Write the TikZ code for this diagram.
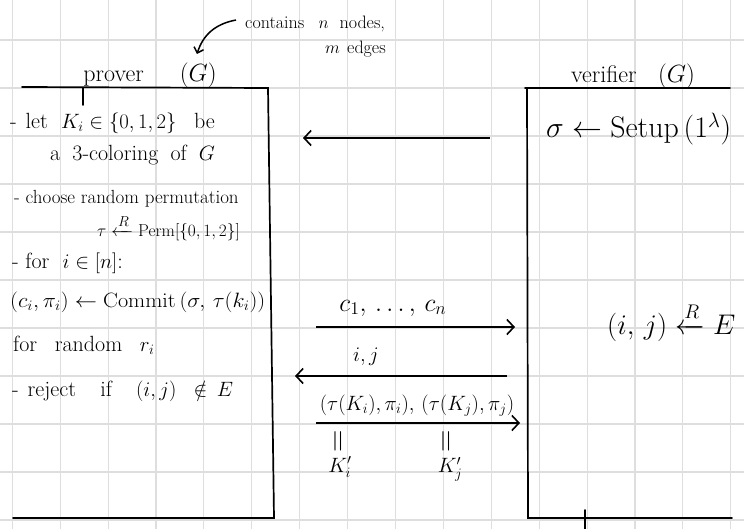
\documentclass[tikz,border=0pt]{standalone}
\usepackage{amsmath,amssymb}
\usetikzlibrary{arrows.meta}
\tikzset{
  gridline/.style={draw=black!13, line width=1.1pt},
  frame/.style={draw=black, line width=1.7pt, line cap=round},
  msg/.style={draw=black, line width=1.6pt, -{Straight Barb[length=7pt,width=15pt,line width=1.6pt]}},
  txt/.style={anchor=west, inner sep=0pt, font=\fontsize{22}{26}\selectfont},
  lbl/.style={inner sep=0pt, font=\fontsize{22}{26}\selectfont},
  note/.style={anchor=west, inner sep=0pt, font=\fontsize{18}{21}\selectfont},
  eqmark/.style={inner sep=0pt, font=\fontsize{16}{18}\selectfont},
}
\begin{document}
\begin{tikzpicture}[x=1pt,y=-1pt]
\useasboundingbox (0,0) rectangle (744,529);
% grid
\foreach \i in {0,...,15} { \draw[gridline] ({12.3+47.9*\i},0) -- ({12.3+47.9*\i},529); }
\foreach \j in {0,...,10} { \draw[gridline] (0,{40+48*\j}) -- (744,{40+48*\j}); }

% annotation
\node[note] (note1) at (245,24) {contains\hspace{0.8em}$n$\hspace{0.6em}nodes,};
\node[note] (note2) at (325,49) {$m$\hspace{0.4em}edges};

% prover
\node[lbl, font=\fontsize{24}{28}\selectfont] (ptitle) at (150,75) {prover\hspace{1.5em}$(G)$};
\coordinate (pG) at (197,54);
\draw[line width=1.5pt, -{Straight Barb[length=5pt,width=10pt,line width=1.5pt]}] (note1.west) ++(-9,-4) .. controls (215,24) and (203,35) .. (pG);
\coordinate (ph1) at (22,87); \coordinate (ph2) at (268,88);
\coordinate (pr2) at (274,518); \coordinate (pb1) at (13,518);
\coordinate (pt1) at (83,88); \coordinate (pt2) at (83,105);
\draw[frame] (ph1) -- (ph2) -- (pr2) -- (pb1);
\draw[frame] (pt1) -- (pt2);

\node[txt] (l1) at (10,123) {-\hspace{0.4em}let\hspace{0.3em} $K_i \in \{0,1,2\}$\hspace{0.5em} be};
\node[txt] (l2) at (50,155) {a\hspace{0.25em} 3-coloring\hspace{0.25em} of\hspace{0.25em} $G$};
\node[txt, font=\fontsize{19}{22}\selectfont] (l3) at (14,199) {- choose random permutation};
\node[txt, font=\fontsize{19}{22}\selectfont] (l4) at (97,228) {$\tau \xleftarrow{\scriptstyle R} \mathrm{Perm}[\{0,1,2\}]$};
\node[txt] (l5) at (12,263) {-\hspace{0.3em}for\hspace{0.3em} $i \in [n]$:};
\node[txt] (l6) at (10,302) {\scalebox{1.07}[1]{$(c_i,\pi_i) \leftarrow \mathrm{Commit}\,(\sigma,\, \tau(k_i))$}};
\node[txt] (l7) at (13,345) {for\hspace{0.5em} random\hspace{0.5em} $r_i$};
\node[txt] (l8) at (12,391) {-\hspace{0.4em}reject\hspace{0.8em} if\hspace{0.8em} $(i,j)\;\; \notin\, E$};

% verifier
\node[lbl, font=\fontsize{24}{28}\selectfont] (vtitle) at (633,76) {verifier\hspace{0.9em}$(G)$};
\coordinate (vh1) at (525,88); \coordinate (vh2) at (730,88);
\coordinate (vl1) at (527,88); \coordinate (vl2) at (528,518); \coordinate (vb2) at (732,518);
\coordinate (vt1) at (585,510); \coordinate (vt2) at (585,529);
\draw[frame] (vh1) -- (vh2);
\draw[frame] (vl1) -- (vl2) -- (vb2);
\draw[frame] (vt1) -- (vt2);
\node[txt] (setup) at (546,129) {\scalebox{1.44}{$\sigma \leftarrow \mathrm{Setup}\,(1^\lambda)$}};
\node[txt] (samp) at (607,322) {\scalebox{1.37}{$(i,\,j) \xleftarrow{\scriptstyle R} E$}};

% messages
\coordinate (a0s) at (490,138); \coordinate (a0e) at (303,138);
\draw[msg] (a0s) -- (a0e);
\coordinate (a1s) at (316,327); \coordinate (a1e) at (515,327);
\draw[msg] (a1s) -- (a1e);
\node[lbl] (m1) at (393,308) {\scalebox{1.24}{$c_1,\,\dots,\,c_n$}};
\coordinate (a2s) at (507,376); \coordinate (a2e) at (295,376);
\draw[msg] (a2s) -- (a2e);
\node[lbl] (m2) at (366,357) {$i,j$};
\coordinate (a3s) at (316,423); \coordinate (a3e) at (520,423);
\draw[msg] (a3s) -- (a3e);
\node[lbl, font=\fontsize{21}{25}\selectfont] (m3) at (417,406) {$(\tau(K_i),\pi_i),\,(\tau(K_j),\pi_j)$};
\node[eqmark] (eq1) at (340,441) {\scalebox{1.8}{\rotatebox{90}{$=$}}};
\node[eqmark] (eq2) at (448,441) {\scalebox{1.8}{\rotatebox{90}{$=$}}};
\node[lbl] (ki) at (340,467) {$K_i'$};
\node[lbl] (kj) at (450,469) {$K_j'$};
\end{tikzpicture}
\end{document}
